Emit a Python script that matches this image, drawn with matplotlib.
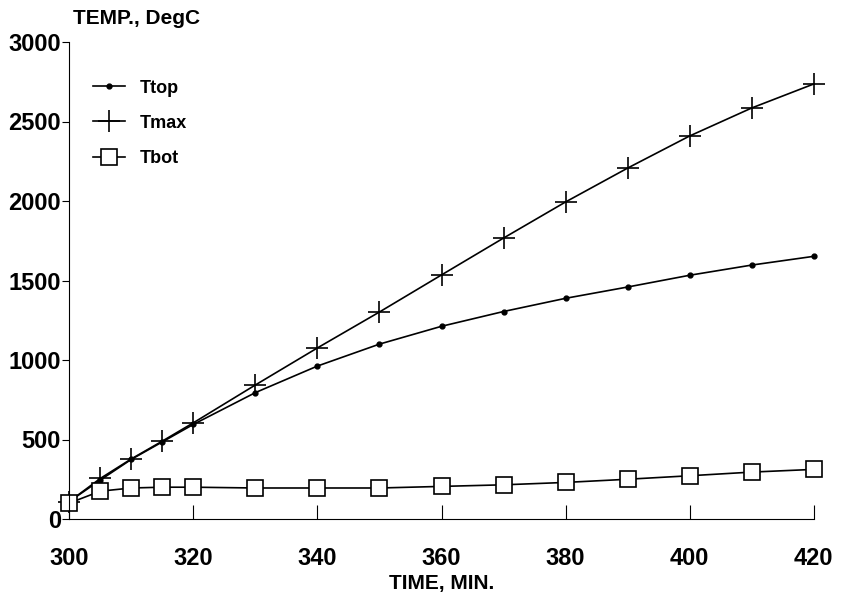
import numpy as np
import matplotlib.pyplot as plt

plt.rcParams['font.family'] = ['Liberation Sans', 'DejaVu Sans']
plt.rcParams['font.weight'] = 'bold'

time_min = [300, 305, 310, 315, 320, 330, 340, 350, 360, 370, 380, 390, 400, 410, 420]
t_top = [110, 245, 375, 485, 595, 795, 962, 1100, 1212, 1305, 1388, 1459, 1533, 1597, 1652]
t_max = [110, 255, 378, 490, 605, 843, 1076, 1302, 1535, 1767, 1994, 2207, 2409, 2585, 2736]
t_bot = [100, 175, 195, 200, 200, 195, 195, 195, 205, 215, 230, 250, 272, 295, 312]

fig = plt.figure(figsize=(8.45, 6), dpi=100)
ax = fig.add_axes([0.082, 0.135, 0.881, 0.795])

ax.plot(time_min, t_top, color='k', lw=1.2, marker='o', ms=3.5, label='Ttop', clip_on=False)
ax.plot(time_min, t_max, color='k', lw=1.2, marker='+', ms=16, mew=1.2, label='Tmax', clip_on=False)
ax.plot(time_min, t_bot, color='k', lw=1.2, marker='s', ms=11, mfc='white', mew=1.2,
        label='Tbot', clip_on=False)

ax.set_xlim(300, 420)
ax.set_ylim(0, 3000)
ax.set_xticks(np.arange(300, 421, 20))
ax.set_yticks(np.arange(0, 3001, 500))
ax.spines['top'].set_visible(False)
ax.spines['right'].set_visible(False)
ax.tick_params(axis='y', direction='out', length=5, labelsize=17, pad=1)
ax.tick_params(axis='x', direction='in', length=10, labelsize=17, pad=20)

ax.text(0.005, 1.03, 'TEMP., DegC', transform=ax.transAxes, fontsize=15,
        fontweight='bold', ha='left', va='bottom')
ax.set_xlabel('TIME, MIN.', fontsize=15, fontweight='bold', labelpad=3)

leg = ax.legend(loc='upper left', bbox_to_anchor=(0.01, 0.955), frameon=False,
                fontsize=13, handlelength=1.8, labelspacing=1.0, borderaxespad=0.5)

fig.savefig('out.png')
